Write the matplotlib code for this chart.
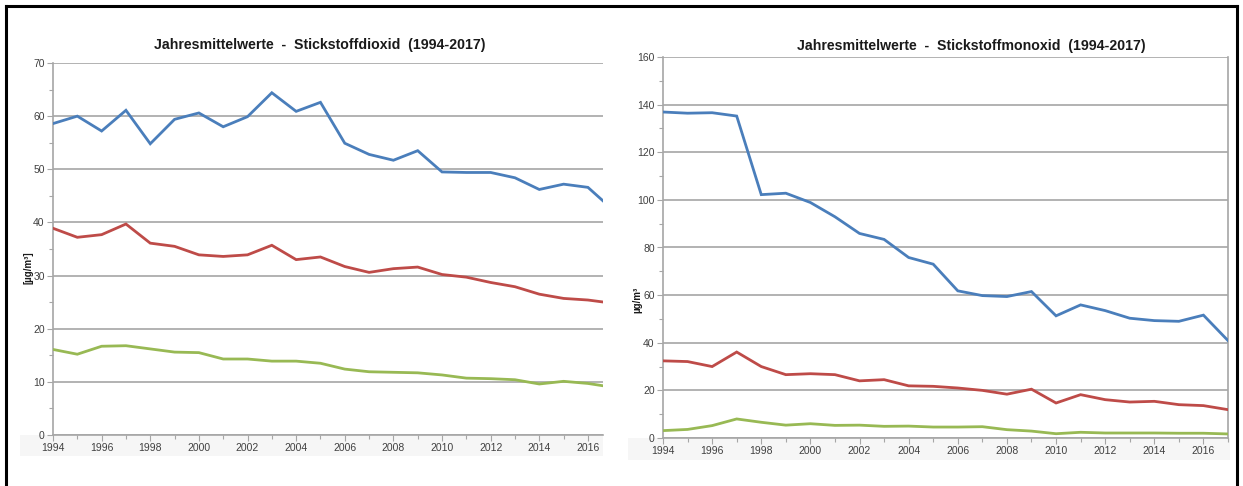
import matplotlib
matplotlib.use("Agg")
import matplotlib.pyplot as plt
from matplotlib.lines import Line2D
from matplotlib.patches import Rectangle
from matplotlib.ticker import MultipleLocator

plt.rcParams['font.family'] = ['Liberation Sans', 'DejaVu Sans']

years = list(range(1994, 2018))

# Stickstoffdioxid (NO2)
no2_blue = [58.6, 60.0, 57.2, 61.1, 54.8, 59.4, 60.6, 58.0, 59.9, 64.4, 60.9, 62.6,
            54.9, 52.8, 51.7, 53.5, 49.5, 49.4, 49.4, 48.4, 46.2, 47.2, 46.6, 42.5]
no2_red = [38.9, 37.2, 37.7, 39.7, 36.1, 35.5, 33.9, 33.6, 33.9, 35.7, 33.0, 33.5,
           31.7, 30.6, 31.3, 31.6, 30.2, 29.7, 28.7, 27.9, 26.5, 25.7, 25.4, 24.8]
no2_green = [16.1, 15.2, 16.7, 16.8, 16.2, 15.6, 15.5, 14.3, 14.3, 13.9, 13.9, 13.5,
             12.4, 11.9, 11.8, 11.7, 11.3, 10.7, 10.6, 10.4, 9.6, 10.1, 9.7, 9.0]

# Stickstoffmonoxid (NO)
no_blue = [136.9, 136.4, 136.6, 135.2, 102.2, 102.8, 98.9, 92.9, 85.9, 83.4, 75.8, 73.0,
           61.8, 59.8, 59.4, 61.5, 51.3, 55.9, 53.5, 50.3, 49.3, 49.0, 51.6, 40.9]
no_red = [32.4, 32.1, 30.0, 36.1, 30.0, 26.6, 27.0, 26.6, 24.0, 24.5, 21.9, 21.7,
          21.0, 20.0, 18.4, 20.5, 14.7, 18.2, 16.1, 15.1, 15.4, 14.0, 13.6, 11.9]
no_green = [3.1, 3.6, 5.2, 8.0, 6.6, 5.4, 6.0, 5.3, 5.4, 4.9, 5.0, 4.6,
            4.6, 4.75, 3.5, 2.9, 1.8, 2.4, 2.1, 2.1, 2.1, 2.0, 2.0, 1.7]

xtick_labels = [str(y) for y in range(1994, 2017, 2)]

titles = ["Jahresmittelwerte  -  Stickstoffdioxid  (1994-2017)",
          "Jahresmittelwerte  -  Stickstoffmonoxid  (1994-2017)"]
ylabels = ["[µg/m³]", "µg/m³"]

BLUE = "#4a7ebb"
RED = "#be4b48"
GREEN = "#98b954"
GRID = "#a6a6a6"
TXT = "#404040"

W, H = 1243, 486
fig = plt.figure(figsize=(W / 100, H / 100), dpi=100)

def fx(px):
    return px / W

def fy(py):
    return 1 - py / H

# faint gray strips behind x tick labels
fig.add_artist(Rectangle((fx(20), fy(456)), fx(583), 21 / H, transform=fig.transFigure,
                         facecolor="#f6f6f6", edgecolor="none", zorder=0))
fig.add_artist(Rectangle((fx(628), fy(460)), fx(602), 22 / H, transform=fig.transFigure,
                         facecolor="#f6f6f6", edgecolor="none", zorder=0))

ax1 = fig.add_axes([fx(53), fy(435), fx(550), 372 / H])
ax2 = fig.add_axes([fx(663), fy(438), fx(565), 381 / H])

configs = [
    (ax1, [no2_blue, no2_red, no2_green], 70, 10, 5, (1994, 2016.62), False, 320, 45, 28, 268),
    (ax2, [no_blue, no_red, no_green], 160, 20, 10, (1994, 2017), True, 971, 46, 637, 300),
]

for i, (ax, series, ymax, ystep, yminor, xlim, right_spine, tx, ty, lx, ly) in enumerate(configs):
    ax.set_facecolor("none")
    for vals, col in zip(series, [BLUE, RED, GREEN]):
        ax.plot(years, vals, color=col, lw=2.0, solid_joinstyle="miter", zorder=3)
    ax.set_ylim(0, ymax)
    ax.set_xlim(*xlim)
    ax.yaxis.set_major_locator(MultipleLocator(ystep))
    ax.yaxis.set_minor_locator(MultipleLocator(yminor))
    ax.set_xticks(list(range(1994, 2017, 2)))
    ax.set_xticklabels(xtick_labels)
    ax.xaxis.set_minor_locator(MultipleLocator(1))
    ax.grid(axis="y", which="major", color=GRID, lw=1.2, zorder=1)
    ax.set_axisbelow(True)
    for s in ["left", "bottom"]:
        ax.spines[s].set_color(GRID)
        ax.spines[s].set_linewidth(1.2)
    ax.spines["top"].set_visible(False)
    if right_spine:
        ax.spines["right"].set_color(GRID)
        ax.spines["right"].set_linewidth(1.2)
    else:
        ax.spines["right"].set_visible(False)
    ax.tick_params(axis="both", which="major", labelsize=7.5, labelcolor=TXT, color=GRID,
                   length=4, width=0.8, pad=2)
    ax.tick_params(axis="both", which="minor", length=3, width=0.8, color=GRID)
    fig.text(fx(tx), fy(ty), titles[i], fontsize=10.2, fontweight="bold", color="#1a1a1a",
             ha="center", va="center")
    fig.text(fx(lx), fy(ly), ylabels[i], fontsize=7, fontweight="bold",
             color="#1a1a1a", rotation=90, ha="center", va="center")

# frame border (top, left, right)
fig.add_artist(Line2D([fx(6), fx(6)], [0, fy(6)], transform=fig.transFigure, color="black", lw=2.2))
fig.add_artist(Line2D([fx(6), fx(1237)], [fy(6), fy(6)], transform=fig.transFigure, color="black", lw=2.2))
fig.add_artist(Line2D([fx(1237), fx(1237)], [fy(6), 0], transform=fig.transFigure, color="black", lw=2.2))

fig.savefig("out.png", dpi=100)
